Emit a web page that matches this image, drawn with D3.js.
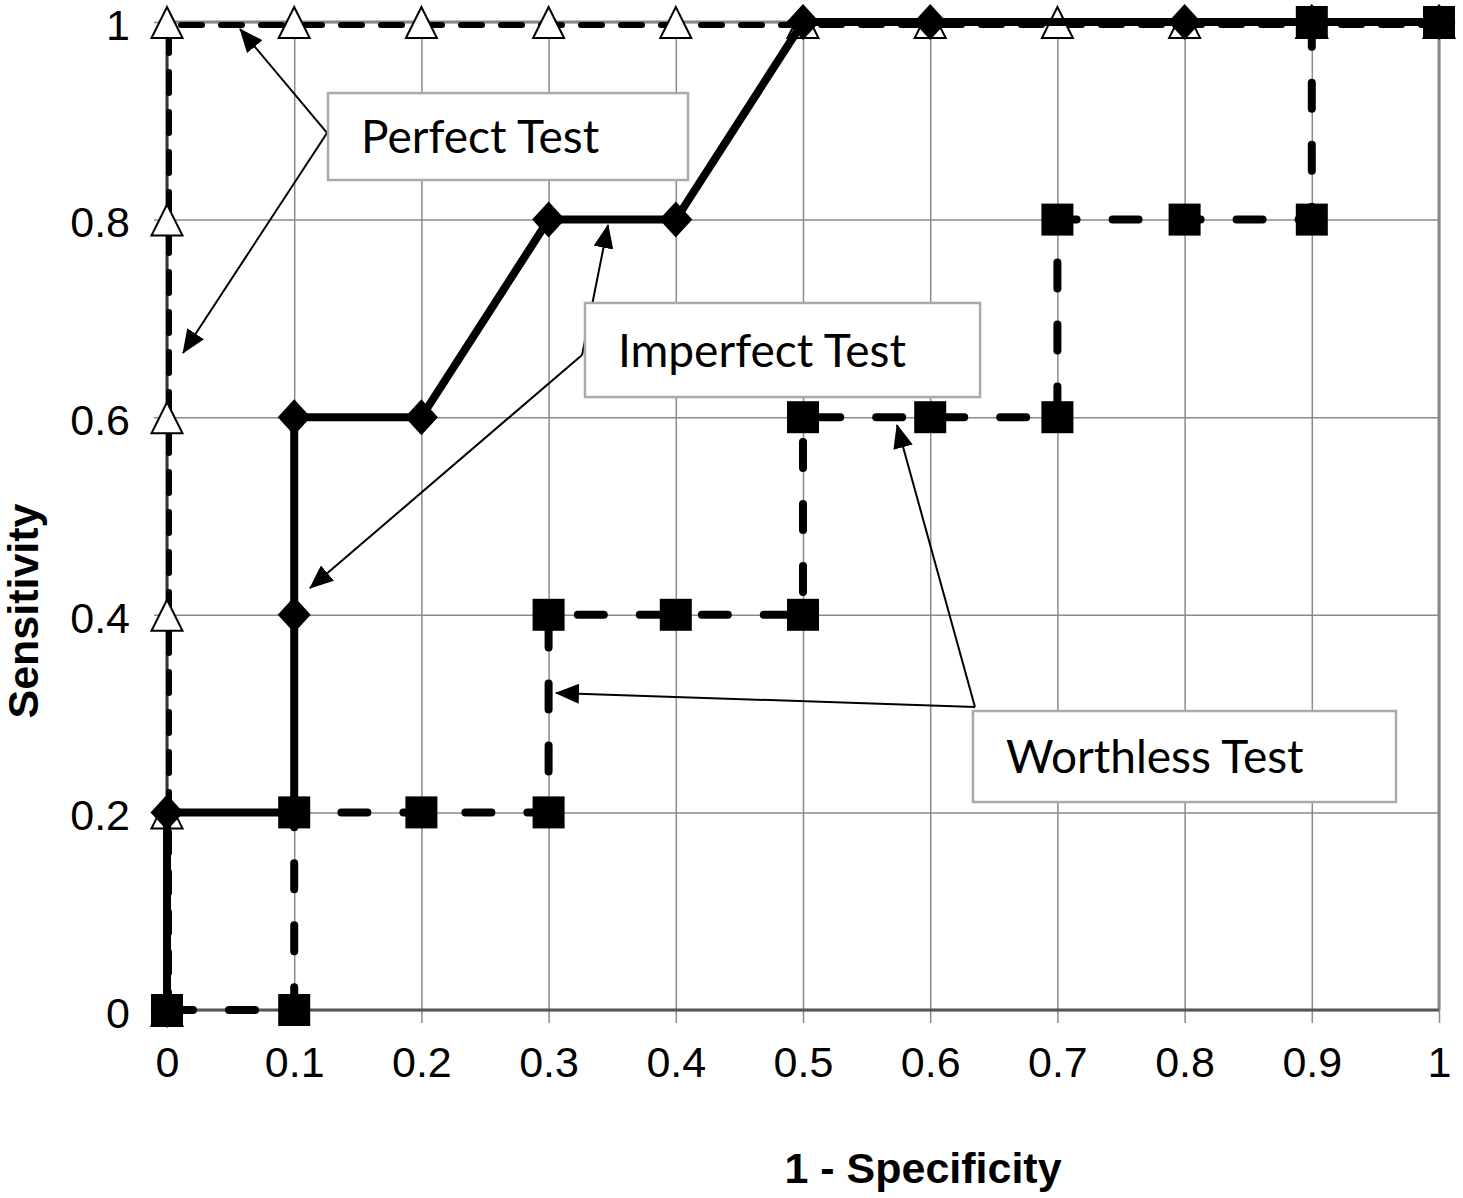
<!DOCTYPE html>
<html>
<head>
<meta charset="utf-8">
<script src="https://cdn.jsdelivr.net/npm/d3@7"></script>
<style>
  html, body { margin: 0; padding: 0; background: #fff; }
  svg { display: block; }
</style>
</head>
<body>
<div id="chart"></div>
<script>
// ---------------- DATA ----------------
const xTicks = [0, 0.1, 0.2, 0.3, 0.4, 0.5, 0.6, 0.7, 0.8, 0.9, 1];
const xTickLabels = ["0", "0.1", "0.2", "0.3", "0.4", "0.5", "0.6", "0.7", "0.8", "0.9", "1"];
const yTicks = [0, 0.2, 0.4, 0.6, 0.8, 1];
const yTickLabels = ["0", "0.2", "0.4", "0.6", "0.8", "1"];

// Perfect test (open triangles, dashed)
const perfectX = [0, 0, 0, 0, 0, 0, 0.1, 0.2, 0.3, 0.4, 0.5, 0.6, 0.7, 0.8, 0.9, 1];
const perfectY = [0, 0.2, 0.4, 0.6, 0.8, 1, 1, 1, 1, 1, 1, 1, 1, 1, 1, 1];

// Imperfect test (diamonds, solid)
const imperfectX = [0, 0, 0.1, 0.1, 0.1, 0.2, 0.3, 0.4, 0.5, 0.6, 0.8, 0.9, 1];
const imperfectY = [0, 0.2, 0.2, 0.4, 0.6, 0.6, 0.8, 0.8, 1, 1, 1, 1, 1];

// Worthless test (squares, dashed)
const worthlessX = [0, 0.1, 0.1, 0.2, 0.3, 0.3, 0.4, 0.5, 0.5, 0.6, 0.7, 0.7, 0.8, 0.9, 0.9, 1];
const worthlessY = [0, 0, 0.2, 0.2, 0.2, 0.4, 0.4, 0.4, 0.6, 0.6, 0.6, 0.8, 0.8, 0.8, 1, 1];

// Axis titles
const xTitle = "1 - Specificity";
const yTitle = "Sensitivity";

// Annotations (anchored in data coordinates)
const annotLabels = ["Perfect Test", "Imperfect Test", "Worthless Test"];
// [xLeft, yTop, xRight, yBottom]
const annotBoxes = [
  [0.1266, 0.9281, 0.4096, 0.8401],
  [0.3286, 0.7156, 0.6392, 0.6204],
  [0.6336, 0.3026, 0.9662, 0.2105]
];
const annotFrom = [
  [0.1258, 0.8877],
  [0.3263, 0.6630],
  [0.6352, 0.3067]
];
const annotTargets = [
  [[0.0574, 0.9929], [0.0126, 0.6650]],
  [[0.3467, 0.7945], [0.1124, 0.4271]],
  [[0.5739, 0.5921], [0.3058, 0.3209]]
];

// ---------------- LAYOUT ----------------
const W = 1463, H = 1198;
const svg = d3.select("#chart").append("svg").attr("width", W).attr("height", H);

const x = d3.scaleLinear().domain([0, 1]).range([167, 1439]);
const y = d3.scaleLinear().domain([0, 1]).range([1010, 22]);

const axisFont = "'Liberation Sans', Arial, sans-serif";
const annotFont = "Lato, 'Open Sans', sans-serif";
const gridColor = "#8a8a8a";

// ---------------- GRID + AXES ----------------
const plotH = y(0) - y(1);
const plotW = x(1) - x(0);

const xAxis = svg.append("g")
  .attr("transform", `translate(0,${y(0)})`)
  .call(d3.axisBottom(x).tickValues(xTicks)
    .tickFormat((d, i) => xTickLabels[i])
    .tickSizeInner(-plotH).tickSizeOuter(0).tickPadding(36));
xAxis.select(".domain").remove();
xAxis.selectAll(".tick line")
  .attr("y1", 13)
  .attr("stroke", gridColor).attr("stroke-width", 1.5);
xAxis.selectAll(".tick text")
  .attr("font-family", axisFont).attr("font-size", 43).attr("fill", "#000");

const yAxis = svg.append("g")
  .attr("transform", `translate(${x(0)},0)`)
  .call(d3.axisLeft(y).tickValues(yTicks)
    .tickFormat((d, i) => yTickLabels[i])
    .tickSizeInner(-plotW).tickSizeOuter(0).tickPadding(37));
yAxis.select(".domain").remove();
yAxis.selectAll(".tick line")
  .attr("x1", -13)
  .attr("stroke", gridColor).attr("stroke-width", 1.5);
yAxis.selectAll(".tick text")
  .attr("dy", "0.4em")
  .attr("font-family", axisFont).attr("font-size", 43).attr("fill", "#000");

// frame
const frame = svg.append("g").attr("fill", "none").attr("stroke-width", 3);
frame.append("line").attr("x1", x(1)).attr("x2", x(1)).attr("y1", y(0)).attr("y2", y(1)).attr("stroke", "#888");
frame.append("line").attr("x1", x(0)).attr("x2", x(1)).attr("y1", y(1)).attr("y2", y(1)).attr("stroke", "#888");
frame.append("line").attr("x1", x(0)).attr("x2", x(1)).attr("y1", y(0)).attr("y2", y(0)).attr("stroke", "#555");
frame.append("line").attr("x1", x(0)).attr("x2", x(0)).attr("y1", y(0)).attr("y2", y(1)).attr("stroke", "#333");

// ---------------- SERIES ----------------
const toPts = (xs, ys) => xs.map((v, i) => [v, ys[i]]);
const line = d3.line().x(d => x(d[0])).y(d => y(d[1]));

// Perfect
const perfectPts = toPts(perfectX, perfectY);
svg.append("path")
  .datum(perfectPts)
  .attr("d", line)
  .attr("transform", "translate(2,3)")
  .attr("fill", "none")
  .attr("stroke", "#000")
  .attr("stroke-width", 6)
  .attr("stroke-linecap", "round")
  .attr("stroke-dasharray", "21 19");
svg.append("g").selectAll("path")
  .data(perfectPts)
  .join("path")
  .attr("transform", d => `translate(${x(d[0])},${y(d[1])})`)
  .attr("d", "M0,-15L15.5,16L-15.5,16Z")
  .attr("fill", "#fff")
  .attr("stroke", "#000")
  .attr("stroke-width", 2);

// Imperfect
const imperfectPts = toPts(imperfectX, imperfectY);
svg.append("path")
  .datum(imperfectPts)
  .attr("d", line)
  .attr("fill", "none")
  .attr("stroke", "#000")
  .attr("stroke-width", 8)
  .attr("stroke-linejoin", "round");
svg.append("g").selectAll("path")
  .data(imperfectPts)
  .join("path")
  .attr("transform", d => `translate(${x(d[0])},${y(d[1])})`)
  .attr("d", "M0,-18L16.5,0L0,18L-16.5,0Z")
  .attr("fill", "#000");

// Worthless
const worthlessPts = toPts(worthlessX, worthlessY);
svg.append("path")
  .datum(worthlessPts)
  .attr("d", line)
  .attr("fill", "none")
  .attr("stroke", "#000")
  .attr("stroke-width", 8)
  .attr("stroke-linecap", "round")
  .attr("stroke-dasharray", "26 36");
svg.append("g").selectAll("rect")
  .data(worthlessPts)
  .join("rect")
  .attr("x", d => x(d[0]) - 16)
  .attr("y", d => y(d[1]) - 16)
  .attr("width", 32)
  .attr("height", 32)
  .attr("fill", "#000");

// ---------------- ANNOTATIONS ----------------
const defs = svg.append("defs");
defs.append("marker")
  .attr("id", "arrow")
  .attr("viewBox", "0 0 24 20")
  .attr("refX", 23).attr("refY", 10)
  .attr("markerWidth", 24).attr("markerHeight", 20)
  .attr("markerUnits", "userSpaceOnUse")
  .attr("orient", "auto")
  .append("path")
  .attr("d", "M0,0L24,10L0,20Z")
  .attr("fill", "#000");

const annG = svg.append("g");
const annFs = 46;
annotLabels.forEach((lab, i) => {
  const b = annotBoxes[i];
  const f = annotFrom[i];
  annotTargets[i].forEach(t => {
    annG.append("line")
      .attr("x1", x(f[0])).attr("y1", y(f[1]))
      .attr("x2", x(t[0])).attr("y2", y(t[1]))
      .attr("stroke", "#000").attr("stroke-width", 2)
      .attr("marker-end", "url(#arrow)");
  });
  annG.append("rect")
    .attr("x", x(b[0])).attr("y", y(b[1]))
    .attr("width", x(b[2]) - x(b[0]))
    .attr("height", y(b[3]) - y(b[1]))
    .attr("fill", "#fff")
    .attr("stroke", "#aaa")
    .attr("stroke-width", 2.5);
  annG.append("text")
    .attr("x", x(b[0]) + 33)
    .attr("y", (y(b[1]) + y(b[3])) / 2 + annFs * 0.36)
    .attr("font-family", annotFont)
    .attr("font-size", annFs)
    .attr("fill", "#000")
    .text(lab);
});

// ---------------- TITLES ----------------
svg.append("text")
  .attr("x", (x(0) + x(1)) / 2 + 120)
  .attr("y", 1183)
  .attr("text-anchor", "middle")
  .attr("font-family", axisFont)
  .attr("font-weight", "bold")
  .attr("font-size", 43)
  .text(xTitle);

svg.append("text")
  .attr("transform", `translate(38,${(y(0) + y(1)) / 2 + 95}) rotate(-90)`)
  .attr("text-anchor", "middle")
  .attr("font-family", axisFont)
  .attr("font-weight", "bold")
  .attr("font-size", 43)
  .text(yTitle);
</script>
</body>
</html>
